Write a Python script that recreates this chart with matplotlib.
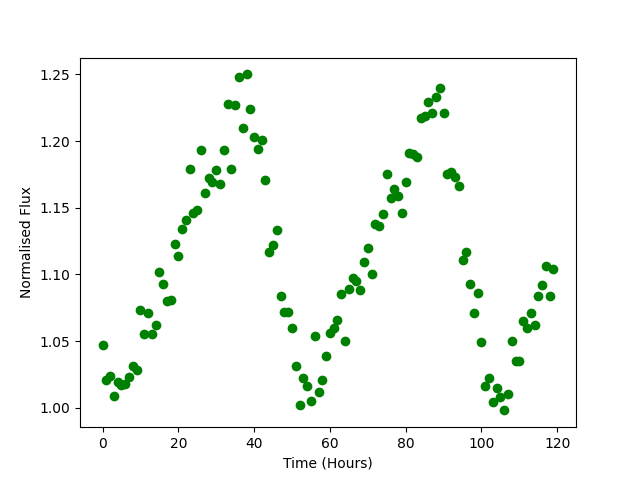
import matplotlib
matplotlib.use("Agg")
import matplotlib.pyplot as plt
import numpy as np

time_hours = list(range(120))
flux = [1.047, 1.021, 1.024, 1.009, 1.019, 1.017, 1.018, 1.023, 1.031, 1.028,
        1.073, 1.055, 1.071, 1.055, 1.062, 1.102, 1.093, 1.080, 1.081, 1.123,
        1.114, 1.134, 1.141, 1.179, 1.146, 1.148, 1.193, 1.161, 1.172, 1.169,
        1.178, 1.168, 1.193, 1.228, 1.179, 1.227, 1.248, 1.210, 1.250, 1.224,
        1.203, 1.194, 1.201, 1.171, 1.117, 1.122, 1.133, 1.084, 1.072, 1.072,
        1.060, 1.031, 1.002, 1.022, 1.016, 1.005, 1.054, 1.012, 1.021, 1.039,
        1.056, 1.060, 1.066, 1.085, 1.050, 1.089, 1.097, 1.095, 1.088, 1.109,
        1.120, 1.100, 1.138, 1.136, 1.145, 1.175, 1.157, 1.164, 1.159, 1.146,
        1.169, 1.191, 1.190, 1.188, 1.217, 1.219, 1.229, 1.221, 1.233, 1.240,
        1.221, 1.175, 1.177, 1.173, 1.166, 1.111, 1.117, 1.093, 1.071, 1.086,
        1.049, 1.016, 1.022, 1.004, 1.015, 1.008, 0.998, 1.010, 1.050, 1.035,
        1.035, 1.065, 1.060, 1.071, 1.062, 1.084, 1.092, 1.106, 1.084, 1.104]

fig, ax = plt.subplots(figsize=(6.4, 4.8), dpi=100)
ax.plot(time_hours, flux, 'o', color='green')
ax.set_xlabel('Time (Hours)')
ax.set_ylabel('Normalised Flux')
fig.savefig('out.png')
